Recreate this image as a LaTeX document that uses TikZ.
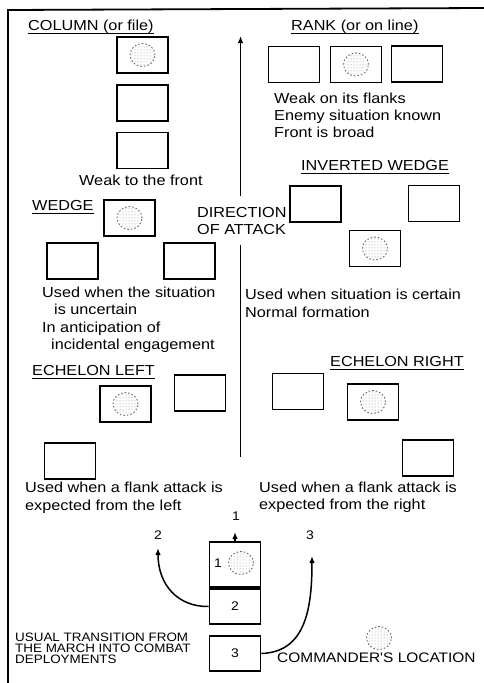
\documentclass[tikz,border=0pt]{standalone}
\usepackage{fontspec}
\setmainfont{Liberation Sans}
\newfontfamily\hv[FakeStretch=1.12]{Liberation Sans}
\newfontfamily\hvw[FakeStretch=1.1]{Liberation Sans}
\usetikzlibrary{arrows.meta,patterns}
\tikzset{
  txt/.style={anchor=base west, inner sep=0pt, font=\hv\fontsize{14.5}{17}\selectfont},
  small/.style={anchor=base west, inner sep=0pt, font=\hvw\fontsize{12.2}{13}\selectfont},
  num/.style={inner sep=0pt, font=\hv\fontsize{12.5}{14}\selectfont},
  uline/.style={line width=1.4pt},
  unitbox/.style={draw, line width=1.7pt, minimum width=51pt, minimum height=36pt, inner sep=0pt},
  axisline/.style={line width=1.5pt},
  tip/.style={-{Latex[length=7pt,width=5.5pt]}},
  frame/.style={line width=1.8pt},
  cmdr/.pic={
    \fill[pattern=dots, pattern color=black!45] (0,0) ellipse [x radius=11pt, y radius=10.5pt];
    \draw[black!60, line width=0.9pt, dash pattern=on 1.6pt off 2pt] (0,0) ellipse [x radius=12.5pt, y radius=11.5pt];
  }
}
\newcommand{\ul}[1]{\draw[uline] ([yshift=-3.5pt]#1.base west) -- ([yshift=-3.5pt]#1.base east);}
\begin{document}
\begin{tikzpicture}[x=1pt,y=-1pt]
\useasboundingbox (0,0) rectangle (484,683);
% frame
\coordinate (fbl) at (8,683);
\coordinate (ftl) at (8,10);
\coordinate (ftr) at (484,8);
\draw[frame] (fbl) -- (ftl) -- (ftr);

% direction of attack
\coordinate (atop) at (240.5,36);
\coordinate (a1) at (240.5,196);
\coordinate (a2) at (240.5,245);
\coordinate (abot) at (240.5,457);
\draw[axisline] (abot) -- (a2);
\draw[axisline, tip] (a1) -- (atop);
\node[txt] (dir1) at (197,217) {DIRECTION};
\node[txt] (dir2) at (197,234) {OF ATTACK};

% COLUMN
\node[txt] (hcol) at (28,30) {COLUMN (or file)}; \ul{hcol}
\node[unitbox] (c1) at (142.5,55) {};
\node[unitbox] (c2) at (142.5,103) {};
\node[unitbox] (c3) at (142.5,150.5) {};
\pic at (c1) {cmdr};
\node[txt] (tcol) at (79,185) {Weak to the front};

% RANK
\node[txt] (hrank) at (291,30) {RANK (or on line)}; \ul{hrank}
\node[unitbox] (r1) at (294,64.5) {};
\node[unitbox] (r2) at (356,64.5) {};
\node[unitbox] (r3) at (417,64) {};
\pic at (r2) {cmdr};
\node[txt] (tr1) at (274,103) {Weak on its flanks};
\node[txt] (tr2) at (274,120) {Enemy situation known};
\node[txt] (tr3) at (274,137) {Front is broad};

% INVERTED WEDGE
\node[txt] (hiw) at (301,170) {INVERTED WEDGE}; \ul{hiw}
\node[unitbox] (iw1) at (315.5,204) {};
\node[unitbox] (iw2) at (434,203.5) {};
\node[unitbox] (iw3) at (375,248.5) {};
\pic at (iw3) {cmdr};
\node[txt] (tiw1) at (245,299) {Used when situation is certain};
\node[txt] (tiw2) at (245,317) {Normal formation};

% WEDGE
\node[txt] (hw) at (32,210) {WEDGE}; \ul{hw}
\node[unitbox] (w1) at (129.5,218) {};
\node[unitbox] (w2) at (72.5,261) {};
\node[unitbox] (w3) at (189.5,261) {};
\pic at (w1) {cmdr};
\node[txt] (tw1) at (42,297) {Used when the situation};
\node[txt] (tw2) at (54,314) {is uncertain};
\node[txt] (tw3) at (42,332) {In anticipation of};
\node[txt] (tw4) at (51,349) {incidental engagement};

% ECHELON LEFT
\node[txt] (hel) at (32,375) {ECHELON LEFT}; \ul{hel}
\node[unitbox] (el1) at (125.5,404) {};
\node[unitbox] (el2) at (200,393) {};
\node[unitbox] (el3) at (70,461) {};
\pic at (el1) {cmdr};
\node[txt] (tel1) at (25,492) {Used when a flank attack is};
\node[txt] (tel2) at (25,510) {expected from the left};

% ECHELON RIGHT
\node[txt] (her) at (330,366) {ECHELON RIGHT}; \ul{her}
\node[unitbox] (er1) at (298,391.5) {};
\node[unitbox] (er2) at (373,402) {};
\node[unitbox] (er3) at (428,458) {};
\pic at (er2) {cmdr};
\node[txt] (ter1) at (259,492) {Used when a flank attack is};
\node[txt] (ter2) at (259,509) {expected from the right};

% transition
\node[unitbox, minimum height=45pt] (b1) at (235,564.5) {};
\node[unitbox, minimum height=35pt] (b2) at (235,606.5) {};
\node[unitbox, minimum height=35pt] (b3) at (235,653.5) {};
\pic at (241,563) {cmdr};
\node[num] (b1n) at (218,563) {1};
\node[num] (b2n) at (235,606) {2};
\node[num] (b3n) at (235,653) {3};
\node[num] (l1) at (236,516) {1};
\node[num] (l2) at (158,535) {2};
\node[num] (l3) at (310,535) {3};
\coordinate (t1) at (235,532);
\coordinate (t2) at (158,548);
\coordinate (t3) at (312,556);
\draw[axisline, tip] (b1.north) -- (t1);
\draw[axisline, tip] (b2.west) .. controls (178,607) and (158,585) .. (t2);
\draw[axisline, tip] (b3.east) .. controls (305,652) and (312,610) .. (t3);

\node[small] (s1) at (15,641) {USUAL TRANSITION FROM};
\node[small] (s2) at (15,652) {THE MARCH INTO COMBAT};
\node[small] (s3) at (15,663) {DEPLOYMENTS};

\pic at (379,638) {cmdr};
\node[txt, font=\hv\fontsize{13.8}{16}\selectfont] (leg) at (277,662) {COMMANDER'S LOCATION};
\end{tikzpicture}
\end{document}
